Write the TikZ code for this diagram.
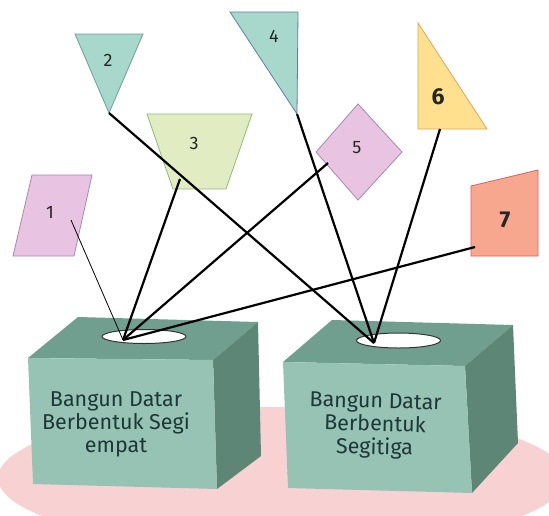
\documentclass[tikz,border=0pt]{standalone}
\usepackage{fontspec}
\setmainfont{Fira Sans}
\begin{document}
\begin{tikzpicture}[x=1pt,y=-1pt,
  shp/.style={line width=0.8pt, line join=miter},
  num/.style={font=\fontsize{18}{18}\selectfont, text=black!85, inner sep=0pt},
  bignum/.style={font=\fontsize{23}{23}\selectfont\bfseries, text=black!85, inner sep=0pt},
  boxtxt/.style={font=\fontsize{21.5}{23}\selectfont, text=boxtext, align=center, inner sep=0pt},
  link/.style={line width=2.2pt, black},
  thinlink/.style={line width=0.8pt, black},
  hole/.style={fill=white, draw=black!80, line width=1pt}]
\definecolor{pinkbg}{HTML}{F8D2D2}
\definecolor{front}{HTML}{96C3B4}
\definecolor{topf}{HTML}{709F90}
\definecolor{side}{HTML}{5D8676}
\definecolor{boxtext}{HTML}{1E3836}
\definecolor{lilac}{HTML}{E8C3E2}
\definecolor{lilacdk}{HTML}{A987B5}
\definecolor{teal}{HTML}{A7D8CB}
\definecolor{tealdk}{HTML}{6E9C9A}
\definecolor{tealdkb}{HTML}{5E7FA8}
\definecolor{lgreen}{HTML}{E1ECC2}
\definecolor{lgreendk}{HTML}{8DBE72}
\definecolor{yel}{HTML}{FFE08E}
\definecolor{yeldk}{HTML}{E3A655}
\definecolor{salmon}{HTML}{F6A78E}
\definecolor{salmondk}{HTML}{DD5F5F}
\useasboundingbox (0,0) rectangle (549,515);
\fill[white] (0,0) rectangle (549,515);
% background ellipse
\fill[pinkbg] (282,478) ellipse [x radius=284, y radius=71];
% left box
\fill[topf] (78,317) -- (258,322) -- (213,360) -- (28,358) -- cycle;
\fill[side] (258,322) -- (261,456) -- (217,489) -- (213,360) -- cycle;
\fill[front] (28,358) -- (213,360) -- (217,489) -- (33,484) -- cycle;
\draw[hole] (144,336.5) ellipse [x radius=42, y radius=7];
% right box
\fill[topf] (332,320) -- (513,325) -- (465,366) -- (283,362) -- cycle;
\fill[side] (513,325) -- (518,443) -- (472,493) -- (465,366) -- cycle;
\fill[front] (283,362) -- (465,366) -- (472,493) -- (288,488) -- cycle;
\draw[hole] (398.5,340.5) ellipse [x radius=42, y radius=7.5];
% box texts
\node[boxtxt] (t1) at (116,424) {Bangun Datar\\Berbentuk Segi\\empat};
\node[boxtxt, rotate=-1.5] (t2) at (375,426) {Bangun Datar\\Berbentuk\\Segitiga};
% shapes
\filldraw[shp, fill=lilac, draw=lilacdk] (32,175) -- (92,175) -- (74,256) -- (13,256) -- cycle;
\filldraw[shp, fill=teal, draw=tealdk] (75,34) -- (143,34) -- (109,113) -- cycle;
\filldraw[shp, fill=lgreen, draw=lgreendk] (147,114) -- (252,114) -- (226,189) -- (173,189) -- cycle;
\filldraw[shp, fill=teal, draw=tealdkb] (230,12) -- (298,12) -- (297,114) -- cycle;
\filldraw[shp, fill=lilac, draw=lilacdk] (358,104) -- (402,152) -- (358,200) -- (316,152) -- cycle;
\filldraw[shp, fill=yel, draw=yeldk] (418,23) -- (487,129) -- (418,129) -- cycle;
\filldraw[shp, fill=salmon, draw=salmondk] (471,186) -- (538,170) -- (538,256) -- (471,256) -- cycle;
% labels
\node[num] (n1) at (50,212) {1};
\node[num] (n2) at (108,60) {2};
\node[num] (n3) at (194,143) {3};
\node[num] (n4) at (274,36) {4};
\node[num] (n5) at (357,148) {5};
\node[bignum] (n6) at (438,97) {6};
\node[bignum] (n7) at (505,220) {7};
% connector end points
\coordinate (s1) at (71,220);
\coordinate (s2) at (109,113);
\coordinate (s3) at (180,179);
\coordinate (s4) at (297,114);
\coordinate (s5) at (328,163);
\coordinate (s6) at (440,129);
\coordinate (s7) at (475,247);
\coordinate (hA) at (123,340);
\coordinate (hB) at (374,343);
% connectors
\draw[thinlink] (s1) -- (hA);
\draw[link] (s3) -- (hA);
\draw[link] (s5) -- (hA);
\draw[link] (s7) -- (hA);
\draw[link] (s2) -- (hB);
\draw[link] (s4) -- (hB);
\draw[link] (s6) -- (hB);
\end{tikzpicture}
\end{document}
